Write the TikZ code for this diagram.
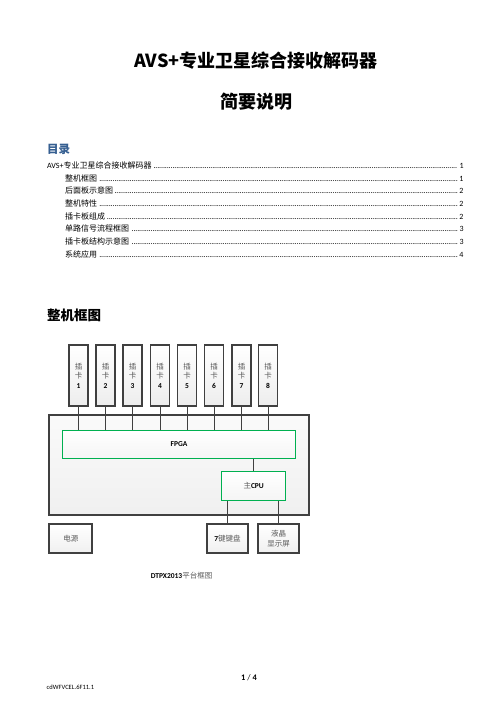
\documentclass[tikz,border=0pt]{standalone}
\usepackage{fontspec}
\setmainfont{Carlito}
\newfontfamily\cjk{Noto Sans CJK SC}
\definecolor{hblue}{RGB}{54,95,145}
\definecolor{bord}{RGB}{64,64,64}
\definecolor{grn}{RGB}{0,176,80}
\definecolor{txtgray}{RGB}{90,90,90}
\newcommand{\tocdots}{\leaders\hbox to 1.9pt{\hss.\hss}\hfill}
\begin{document}
\begin{tikzpicture}[x=1pt,y=-1pt,
  card/.style={draw=bord,line width=1.8pt,top color=white,bottom color=gray!14,minimum width=19pt,minimum height=61pt,inner sep=0pt,align=center,font=\fontsize{7.5}{9.5}\selectfont},
  outerbox/.style={draw=bord,line width=1.8pt,top color=gray!4,bottom color=gray!12,minimum width=260pt,minimum height=100pt,inner sep=0pt},
  chip/.style={draw=grn,line width=1.1pt,top color=white,bottom color=gray!8,inner sep=0pt,font=\fontsize{7.5}{9}\selectfont},
  extbox/.style={draw=bord,line width=1.8pt,top color=white,bottom color=gray!12,minimum height=29pt,inner sep=0pt,align=center,font=\fontsize{7.5}{10}\selectfont},
  wire/.style={draw=bord,line width=0.8pt},
  tocl/.style={anchor=base west,inner sep=0pt,font=\fontsize{8}{9}\selectfont}]
\useasboundingbox (0,0) rectangle (496,702);
% titles
\node (t1) at (256,61) {\cjk\bfseries\fontsize{18}{20}\selectfont AVS+专业卫星综合接收解码器};
\node (t2) at (256,102) {\cjk\bfseries\fontsize{18}{20}\selectfont 简要说明};
\node[anchor=west,inner sep=0pt,text=hblue] (toc) at (47,149) {\cjk\bfseries\fontsize{11.5}{13}\selectfont 目录};
% TOC entries
\node[tocl] (e0) at (47,168.5) {\hbox to 417pt{AVS+{\cjk 专业卫星综合接收解码器}\,\tocdots\,1}};
\node[tocl] (e1) at (65,181) {\hbox to 399pt{{\cjk 整机框图}\,\tocdots\,1}};
\node[tocl] (e2) at (65,193.5) {\hbox to 399pt{{\cjk 后面板示意图}\,\tocdots\,2}};
\node[tocl] (e3) at (65,206.5) {\hbox to 399pt{{\cjk 整机特性}\,\tocdots\,2}};
\node[tocl] (e4) at (65,219) {\hbox to 399pt{{\cjk 插卡板组成}\,\tocdots\,2}};
\node[tocl] (e5) at (65,231.5) {\hbox to 399pt{{\cjk 单路信号流程框图}\,\tocdots\,3}};
\node[tocl] (e6) at (65,244.5) {\hbox to 399pt{{\cjk 插卡板结构示意图}\,\tocdots\,3}};
\node[tocl] (e7) at (65,257) {\hbox to 399pt{{\cjk 系统应用}\,\tocdots\,4}};
% section heading
\node[anchor=west,inner sep=0pt] (sec) at (47,315) {\cjk\bfseries\fontsize{13.5}{15}\selectfont 整机框图};
% outer box and chips
\node[outerbox] (outer) at (179.3,464.7) {};
\node[chip,minimum width=233.4pt,minimum height=27.6pt] (fpga) at (179,444.5) {\textbf{FPGA}};
\node[chip,minimum width=64pt,minimum height=28.7pt] (cpu) at (253.7,485.7) {{\cjk\color{txtgray}主}\textbf{CPU}};
% cards
\foreach \i/\x in {1/78.5,2/105.5,3/132.5,4/160,5/187,6/214,7/241.5,8/268}{
  \node[card] (c\i) at (\x,375.4) {{\cjk\color{txtgray}插}\\{\cjk\color{txtgray}卡}\\\textbf{\i}};
  \draw[wire] (c\i.south) -- (c\i.south |- fpga.north);
}
\draw[wire] (cpu.north) -- (cpu.north |- fpga.south);
% external boxes
\node[extbox,minimum width=43pt] (pwr) at (70.8,538.7) {\cjk\color{txtgray}电源};
\node[extbox,minimum width=41.6pt] (kb) at (227.5,538.7) {\textbf{7}{\cjk\color{txtgray}键键盘}};
\node[extbox,minimum width=41.6pt] (lcd) at (278.5,538.7) {{\cjk\color{txtgray}液晶}\\{\cjk\color{txtgray}显示屏}};
\draw[wire] (kb.north) -- (kb.north |- cpu.south);
\draw[wire] (lcd.north) -- (lcd.north |- cpu.south);
% caption
\node (cap) at (181.5,576) {\fontsize{7.5}{9}\selectfont\textbf{DTPX2013}{\cjk\color{txtgray}平台框图}};
% footer
\node (pg) at (249,678) {\fontsize{8.5}{10}\selectfont\textbf{1} / \textbf{4}};
\node[anchor=west,inner sep=0pt] (code) at (46.5,687.5) {\fontsize{6.5}{8}\selectfont cdWFVCEL.6F11.1};
\end{tikzpicture}
\end{document}
